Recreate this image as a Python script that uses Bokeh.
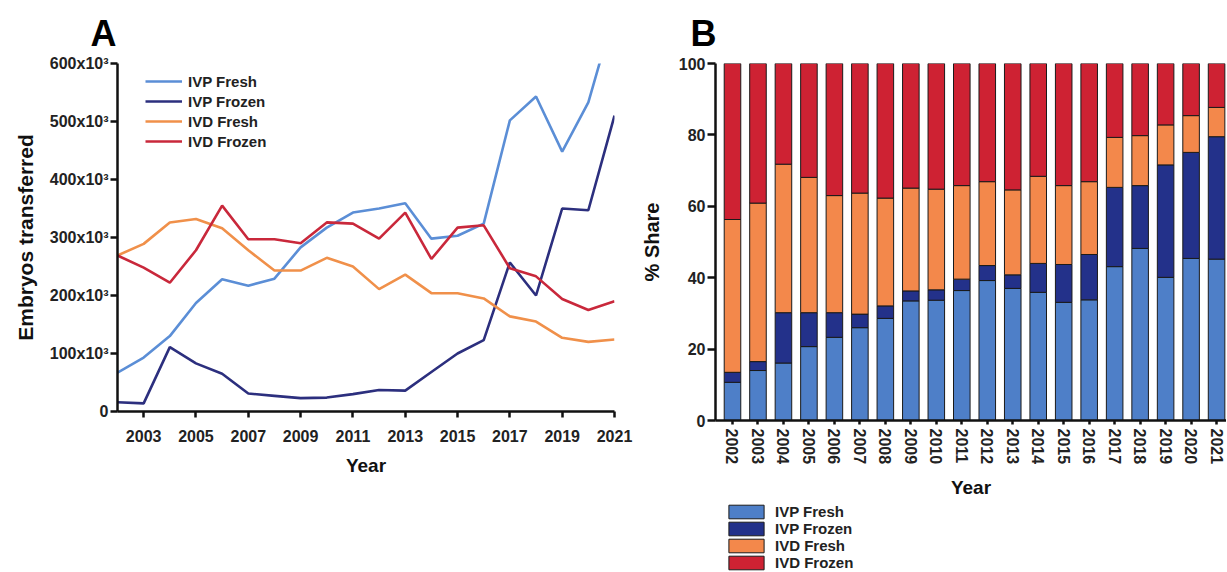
import math
from bokeh.plotting import figure
from bokeh.layouts import row, column
from bokeh.models import FixedTicker, Legend, LegendItem, ColumnDataSource, Range1d
from bokeh.embed import file_html
from bokeh.resources import INLINE

# ---------------- data ----------------
years = list(range(2002, 2022))

# Panel A: embryos transferred (x10^3)
ivp_fresh = [67, 93, 130, 187, 228, 217, 229, 283, 317, 343, 350, 359, 298, 303, 324, 502, 543, 448, 533, 690]
ivp_frozen = [16, 14, 111, 83, 65, 31, 27, 23, 24, 30, 37, 36, 68, 100, 123, 257, 200, 350, 347, 510]
ivd_fresh = [269, 289, 326, 332, 316, 278, 243, 243, 265, 250, 211, 236, 204, 204, 195, 164, 155, 127, 120, 124]
ivd_frozen = [269, 248, 222, 278, 355, 297, 297, 290, 326, 324, 298, 343, 263, 317, 321, 247, 233, 194, 175, 190]

# Panel B: % share
share_ivp_fresh = [10.7, 14.0, 16.1, 20.7, 23.3, 26.0, 28.6, 33.5, 33.7, 36.4, 39.2, 37.0, 35.9, 33.1, 33.8, 43.1, 48.2, 40.1, 45.4, 45.2]
share_ivp_frozen = [2.8, 2.5, 14.1, 9.5, 6.9, 3.8, 3.5, 2.8, 2.9, 3.2, 4.2, 3.8, 8.1, 10.6, 12.7, 22.2, 17.6, 31.5, 29.7, 34.3]
share_ivd_fresh = [42.8, 44.4, 41.6, 37.9, 32.8, 33.9, 30.2, 28.8, 28.2, 26.2, 23.5, 23.8, 24.4, 22.1, 20.4, 14.0, 14.0, 11.2, 10.3, 8.2]
share_ivd_frozen = [43.7, 39.1, 28.2, 31.9, 37.0, 36.3, 37.7, 34.9, 35.2, 34.2, 33.1, 35.4, 31.6, 34.2, 33.1, 20.7, 20.2, 17.2, 14.6, 12.3]

series_names = ["IVP Fresh", "IVP Frozen", "IVD Fresh", "IVD Frozen"]
y_ticks_a = [0, 100, 200, 300, 400, 500, 600]
y_tick_labels_a = ["0", "100x10³", "200x10³", "300x10³", "400x10³", "500x10³", "600x10³"]
x_ticks_a = [2003, 2005, 2007, 2009, 2011, 2013, 2015, 2017, 2019, 2021]
y_ticks_b = [0, 20, 40, 60, 80, 100]

line_colors = ["#5B8ED6", "#2C2F7E", "#F0904A", "#C9283B"]
bar_colors = ["#4E7FC8", "#23318A", "#F3884B", "#CE2233"]

FONT = "Liberation Sans"


def style_axes(p):
    for ax in (p.xaxis[0], p.yaxis[0]):
        ax.axis_line_width = 2.5
        ax.axis_line_color = "#111111"
        ax.major_tick_line_width = 2.5
        ax.major_tick_line_color = "#111111"
        ax.major_tick_in = 0
        ax.minor_tick_line_color = None
        ax.major_label_text_font = FONT
        ax.major_label_text_font_style = "bold"
        ax.major_label_text_font_size = "16px"
        ax.major_label_text_color = "#222222"
        ax.axis_label_text_font = FONT
        ax.axis_label_text_font_style = "bold"
        ax.axis_label_text_font_size = "19px"
        ax.axis_label_text_color = "#111111"
    p.xgrid.grid_line_color = None
    p.ygrid.grid_line_color = None
    p.outline_line_color = None


def style_title(p, text, offset):
    p.title.text = text
    p.title.align = "left"
    p.title.offset = offset
    p.title.text_font = FONT
    p.title.text_font_style = "bold"
    p.title.text_font_size = "36px"
    p.title.text_color = "#000000"
    p.title.standoff = 19


# ---------------- Panel A ----------------
p1 = figure(width=635, height=571, x_range=Range1d(2002, 2021), y_range=Range1d(0, 600),
            output_backend="svg", toolbar_location=None,
            min_border_left=117, min_border_right=21, min_border_top=63, min_border_bottom=160)
style_axes(p1)
style_title(p1, "A", -27)
p1.yaxis.axis_label_text_font_size = "21px"
p1.yaxis.ticker = FixedTicker(ticks=y_ticks_a)
p1.yaxis.major_label_overrides = {t: l for t, l in zip(y_ticks_a, y_tick_labels_a)}
p1.xaxis.ticker = FixedTicker(ticks=x_ticks_a)
p1.yaxis.major_tick_out = 7
p1.yaxis.major_label_standoff = 2
p1.xaxis.major_tick_out = 6
p1.xaxis.major_label_standoff = 12
p1.xaxis.axis_label = "Year"
p1.yaxis.axis_label = "Embryos transferred"
p1.xaxis.axis_label_standoff = 10
p1.yaxis.axis_label_standoff = 10

src_a = ColumnDataSource(dict(year=years, ivp_fresh=ivp_fresh, ivp_frozen=ivp_frozen,
                              ivd_fresh=ivd_fresh, ivd_frozen=ivd_frozen))
items_a = []
for col, name, c in zip(["ivp_fresh", "ivp_frozen", "ivd_fresh", "ivd_frozen"], series_names, line_colors):
    r = p1.line("year", col, source=src_a, line_color=c, line_width=2.6)
    items_a.append(LegendItem(label=name, renderers=[r]))

leg_a = Legend(items=items_a, location=(28, 260), orientation="vertical",
               glyph_width=37, glyph_height=20, label_height=20, spacing=0,
               label_standoff=6, padding=0, margin=0,
               border_line_color=None, background_fill_alpha=0,
               label_text_font=FONT, label_text_font_style="bold",
               label_text_font_size="15px", label_text_color="#222222")
p1.add_layout(leg_a)

# ---------------- Panel B ----------------
p2 = figure(width=591, height=501, x_range=Range1d(2001.333, 2021.39), y_range=Range1d(0, 100),
            output_backend="svg", toolbar_location=None,
            min_border_left=80, min_border_right=0, min_border_top=63, min_border_bottom=81)
style_axes(p2)
style_title(p2, "B", -25)
p2.yaxis.axis_label_text_font_size = "20px"
p2.yaxis.ticker = FixedTicker(ticks=y_ticks_b)
p2.xaxis.ticker = FixedTicker(ticks=years)
p2.xaxis.major_label_orientation = -math.pi / 2
p2.xaxis.major_tick_out = 4
p2.xaxis.major_label_standoff = 4
p2.yaxis.major_tick_out = 8
p2.yaxis.major_label_standoff = 2
p2.xaxis.axis_label = "Year"
p2.yaxis.axis_label = "% Share"
p2.xaxis.axis_label_standoff = 10
p2.yaxis.axis_label_standoff = 13

src_b = ColumnDataSource(dict(year=years, ivp_fresh=share_ivp_fresh, ivp_frozen=share_ivp_frozen,
                              ivd_fresh=share_ivd_fresh, ivd_frozen=share_ivd_frozen))
stack_cols = ["ivp_fresh", "ivp_frozen", "ivd_fresh", "ivd_frozen"]
p2.vbar_stack(stack_cols, x="year", width=0.65, source=src_b,
              fill_color=bar_colors, line_color="#1a1a1a", line_width=1)

# legend for panel B lives in a small strip below it
p3 = figure(width=591, height=70, x_range=Range1d(0, 1), y_range=Range1d(0, 1),
            output_backend="svg", toolbar_location=None,
            x_axis_location=None, y_axis_location=None,
            min_border_left=0, min_border_right=0, min_border_top=0, min_border_bottom=0)
p3.xgrid.grid_line_color = None
p3.ygrid.grid_line_color = None
p3.outline_line_color = None
p3.title.visible = False
leg_rs = p3.vbar_stack(stack_cols, x="year", width=0.65, source=src_b,
                       fill_color=bar_colors, line_color="#1a1a1a", line_width=1, visible=False)
items_b = [LegendItem(label=n, renderers=[r]) for n, r in zip(series_names, leg_rs)]
leg_b = Legend(items=items_b, location=(9, 0), orientation="vertical",
               glyph_width=44, glyph_height=17, label_height=17, spacing=0,
               label_standoff=7, padding=0, margin=0,
               border_line_color=None, background_fill_alpha=0,
               inactive_fill_alpha=0,
               label_text_font=FONT, label_text_font_style="bold",
               label_text_font_size="15px", label_text_color="#222222")
p3.add_layout(leg_b)

layout = row(p1, column(p2, p3, spacing=0), spacing=0)
open("out.html", "w").write(file_html(layout, INLINE))
